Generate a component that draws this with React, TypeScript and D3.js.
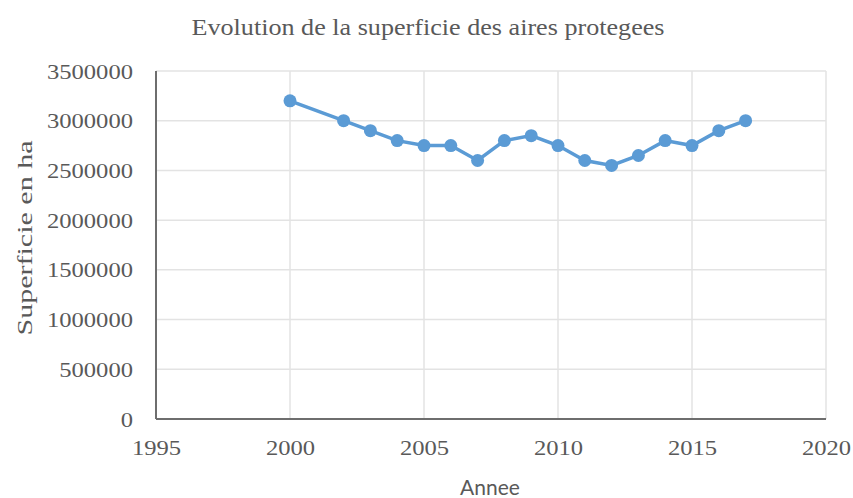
import { useEffect, useRef } from "react";
import { axisBottom, axisLeft, line, scaleLinear, select } from "d3";

const WIDTH = 853;
const HEIGHT = 498;
const MARGIN = { top: 71, right: 27, bottom: 79, left: 156 };

const years = [2000, 2002, 2003, 2004, 2005, 2006, 2007, 2008, 2009, 2010, 2011, 2012, 2013, 2014, 2015, 2016, 2017];
const surfaces = [
  3200000, 3000000, 2900000, 2800000, 2750000, 2750000, 2600000, 2800000, 2850000, 2750000, 2600000, 2550000,
  2650000, 2800000, 2750000, 2900000, 3000000,
];
const xTicks = [1995, 2000, 2005, 2010, 2015, 2020];
const yTicks = [0, 500000, 1000000, 1500000, 2000000, 2500000, 3000000, 3500000];

const SERIES_COLOR = "#5b9bd5";
const TEXT_COLOR = "#595959";
const SERIF = "'Liberation Serif', 'Times New Roman', serif";

export default function App() {
  const innerW = WIDTH - MARGIN.left - MARGIN.right;
  const innerH = HEIGHT - MARGIN.top - MARGIN.bottom;

  const x = scaleLinear().domain([1995, 2020]).range([0, innerW]);
  const y = scaleLinear().domain([0, 3500000]).range([innerH, 0]);

  const xAxisRef = useRef<SVGGElement>(null);
  const yAxisRef = useRef<SVGGElement>(null);

  useEffect(() => {
    const styleTicks = (g: any) => {
      g.attr("font-family", SERIF);
      g.selectAll("text")
        .style("font-family", SERIF)
        .style("font-size", "22px")
        .attr("fill", TEXT_COLOR)
        // the source picture is a bit stretched sideways
        .attr("textLength", (d: number) => String(d).length * 12.3)
        .attr("lengthAdjust", "spacingAndGlyphs");
    };
    if (xAxisRef.current) {
      const g = select(xAxisRef.current);
      g.call(axisBottom(x).tickValues(xTicks).tickFormat((d) => String(d)).tickSize(0).tickPadding(20));
      g.select(".domain").remove();
      styleTicks(g);
    }
    if (yAxisRef.current) {
      const g = select(yAxisRef.current);
      g.call(axisLeft(y).tickValues(yTicks).tickFormat((d) => String(d)).tickSize(0).tickPadding(23));
      g.select(".domain").remove();
      styleTicks(g);
    }
  });

  const path = line<number>()
    .x((_, i) => x(years[i]))
    .y((d) => y(d));

  return (
    <svg width={WIDTH} height={HEIGHT} style={{ position: "absolute", left: 0, top: 0, background: "#fff" }}>
      <text
        x={428}
        y={35}
        textAnchor="middle"
        style={{ fontFamily: SERIF, fontSize: 23 }}
        fill={TEXT_COLOR}
        textLength={473}
        lengthAdjust="spacingAndGlyphs"
      >
        Evolution de la superficie des aires protegees
      </text>
      <g transform={`translate(${MARGIN.left},${MARGIN.top})`}>
        {yTicks.map((t) => (
          <line key={"gy" + t} x1={0} x2={innerW} y1={y(t)} y2={y(t)} stroke="#e3e3e3" strokeWidth={1.5} />
        ))}
        {xTicks.map((t) => (
          <line key={"gx" + t} x1={x(t)} x2={x(t)} y1={0} y2={innerH} stroke="#e3e3e3" strokeWidth={1.5} />
        ))}
        <line x1={0} x2={0} y1={0} y2={innerH} stroke="#6e6e6e" strokeWidth={2} />
        <line x1={0} x2={innerW} y1={innerH} y2={innerH} stroke="#6e6e6e" strokeWidth={2} />
        <g ref={xAxisRef} transform={`translate(0,${innerH})`} />
        <g ref={yAxisRef} />
        <path d={path(surfaces) ?? undefined} fill="none" stroke={SERIES_COLOR} strokeWidth={3.5} />
        {surfaces.map((v, i) => (
          <circle key={years[i]} cx={x(years[i])} cy={y(v)} r={6.5} fill={SERIES_COLOR} />
        ))}
      </g>
      <text
        transform={`translate(32,${MARGIN.top + innerH / 2 - 7}) rotate(-90)`}
        textAnchor="middle"
        style={{ fontFamily: SERIF, fontSize: 22 }}
        fill={TEXT_COLOR}
        textLength={195}
        lengthAdjust="spacingAndGlyphs"
      >
        Superficie en ha
      </text>
      <text x={490} y={495} textAnchor="middle" style={{ fontFamily: "Lato, 'Noto Sans', sans-serif", fontSize: 21 }} fill={TEXT_COLOR}>
        Annee
      </text>
    </svg>
  );
}
